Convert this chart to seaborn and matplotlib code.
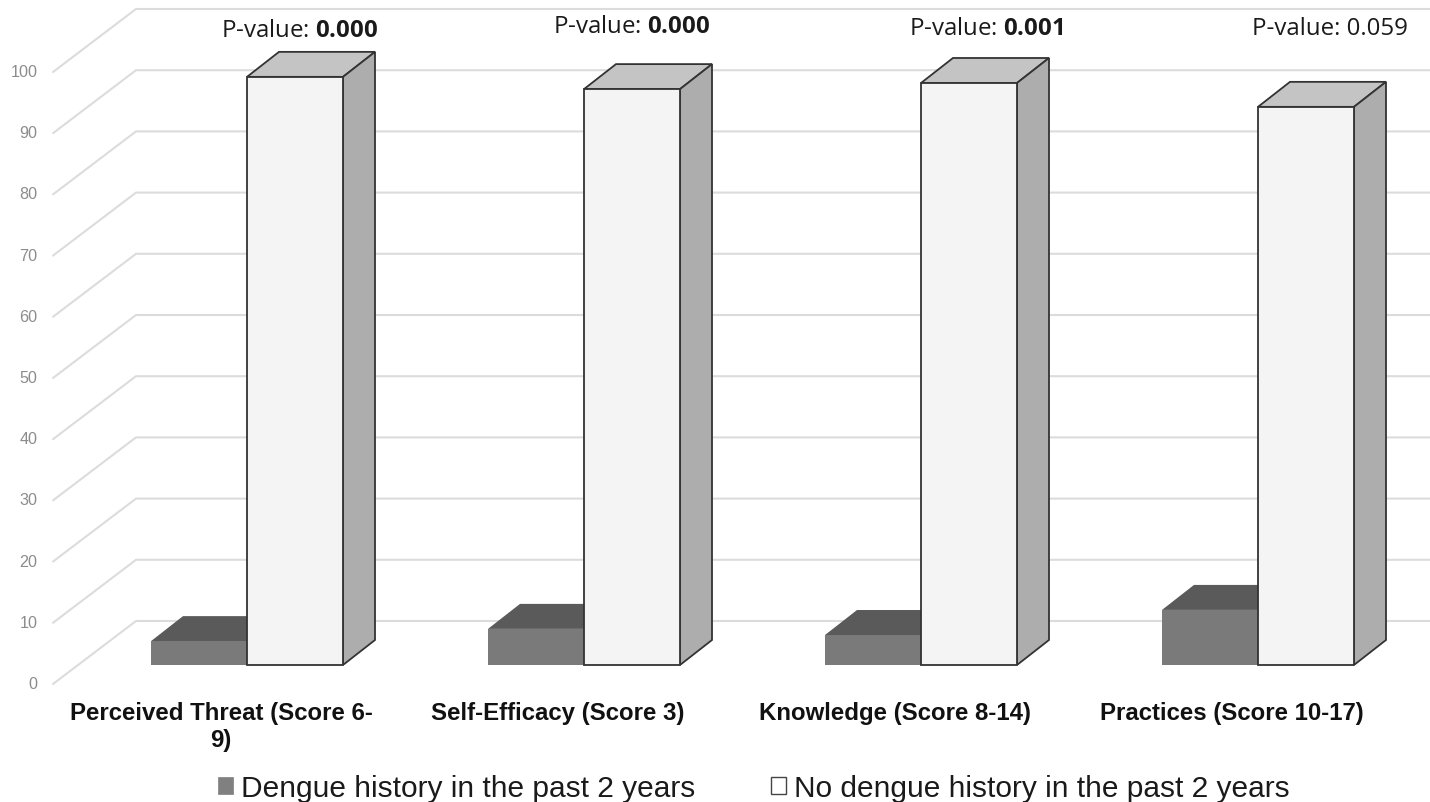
import numpy as np
import pandas as pd
from matplotlib import pyplot as plt
from matplotlib.patches import Patch, Polygon
from matplotlib.transforms import Affine2D
import seaborn as sns

categories = ["Perceived Threat (Score 6-\n9)", "Self-Efficacy (Score 3)",
              "Knowledge (Score 8-14)", "Practices (Score 10-17)"]
series_names = ["Dengue history in the past 2 years", "No dengue history in the past 2 years"]
dengue = [3.9, 5.9, 4.9, 9.0]
no_dengue = [96.1, 94.1, 95.1, 91.2]
p_values = ["0.000", "0.000", "0.001", "0.059"]
p_bold = [True, True, True, False]
y_ticks = list(range(0, 101, 10))

W, H = 1430, 803
# picture geometry, pixels
px_per_unit = 6.12
px_per_cat = 337
first_x = 247
base_y = 666
left = 53

sns.set_style("white")
plt.rcParams["font.family"] = ["Liberation Sans", "DejaVu Sans"]
plt.rcParams["mathtext.fontset"] = "custom"
plt.rcParams["mathtext.rm"] = "Open Sans"
plt.rcParams["mathtext.bf"] = "Open Sans:bold"

fig = plt.figure(figsize=(W / 100, H / 100), dpi=100)
ax = fig.add_axes([left / W, (H - base_y) / H, (W - left) / W, base_y / H])

df = pd.DataFrame({
    "category": categories * 2,
    "series": [series_names[0]] * 4 + [series_names[1]] * 4,
    "value": dengue + no_dengue,
})
sns.barplot(data=df, x="category", y="value", hue="series", hue_order=series_names,
            palette=["#7a7a7a", "#f4f4f4"], saturation=1, width=192 / px_per_cat, gap=0,
            legend=False, ax=ax, zorder=3)

ax.set_xlim((left - first_x) / px_per_cat, (W - first_x) / px_per_cat)
ax.set_ylim(0, base_y / px_per_unit)
ax.set_xlabel("")
ax.set_ylabel("")
sns.despine(ax=ax, left=True, bottom=True)


def xd(px):
    return (px - first_x) / px_per_cat


# back wall and floor lines, shifted from the bar baseline
for v in y_ticks:
    ax.plot([xd(53), xd(136), xd(W)],
            [v - 19 / px_per_unit, v + 44 / px_per_unit, v + 44 / px_per_unit],
            color="#dcdcdc", lw=1.5, zorder=1, clip_on=False, solid_joinstyle="miter")

# fake 3D sides and tops for each bar
dx = 32 / px_per_cat
dy = 25 / px_per_unit
styles = [
    {"top": "#5a5a5a", "side": "#5a5a5a", "edge": "none", "z": 2.5},
    {"top": "#c4c4c4", "side": "#adadad", "edge": "#333333", "z": 4},
]
for container, st in zip(ax.containers, styles):
    for bar in container:
        x0 = bar.get_x()
        x1 = x0 + bar.get_width()
        h = bar.get_height()
        ax.add_patch(Polygon([(x0, h), (x1, h), (x1 + dx, h + dy), (x0 + dx, h + dy)],
                             fc=st["top"], ec=st["edge"], lw=1.3, zorder=st["z"]))
        ax.add_patch(Polygon([(x1, 0), (x1 + dx, dy), (x1 + dx, h + dy), (x1, h)],
                             fc=st["side"], ec=st["edge"], lw=1.3, zorder=st["z"]))
        bar.set_edgecolor(st["edge"])
        if st["edge"] != "none":
            bar.set_linewidth(1.3)
            bar.set_zorder(5)
            bar.set_clip_on(False)

ax.set_yticks(y_ticks)
ax.tick_params(axis="y", length=0, pad=11, labelsize=11.6, labelcolor="#8c8c8c")
ax.tick_params(axis="x", length=0, pad=26)
for lab in ax.get_yticklabels():
    lab.set_transform(lab.get_transform() + Affine2D().translate(0, -17))
for lab in ax.get_xticklabels():
    lab.set_fontweight("bold")
    lab.set_fontsize(17.25)
    lab.set_color("#111111")
    lab.set_linespacing(1.24)
    lab.set_transform(lab.get_transform() + Affine2D().translate(-26, 0))

# p-value notes
p_x = [300, 632, 986, 1330]
p_y = [31, 27, 29, 29]
for p, bold, x, y in zip(p_values, p_bold, p_x, p_y):
    val = r"$\mathbf{" + p + "}$" if bold else p
    fig.text(x / W, 1 - y / H, "P-value: " + val, ha="center", va="center",
             fontsize=17.3, family="Open Sans", color="#1a1a1a")

handles = [Patch(fc="#808080", ec="#808080", lw=0.5), Patch(fc="white", ec="#444444", lw=1)]
fig.legend(handles, series_names, loc="center", bbox_to_anchor=(754 / W, 1 - 789 / H), ncol=2,
           frameon=False, fontsize=21.55, handlelength=0.5, handleheight=0.5,
           handletextpad=0.25, columnspacing=2.55, labelcolor="#1a1a1a")

fig.savefig("out.png", dpi=100)
